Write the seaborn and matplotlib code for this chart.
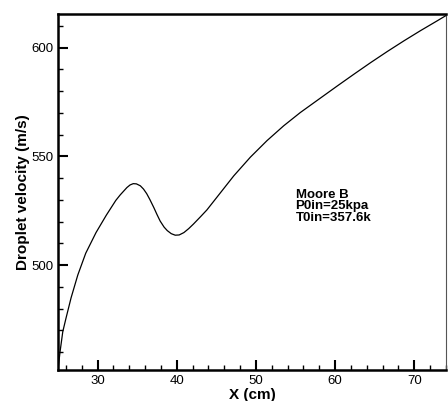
import pandas as pd
import seaborn as sns
import matplotlib.pyplot as plt
from matplotlib.ticker import MultipleLocator

# droplet velocity along the nozzle
x_cm = [25.0, 25.25, 25.6, 26.0, 26.65, 27.5, 28.5, 29.8, 31.1, 32.3, 32.85, 33.7,
        34.1, 34.5, 34.9, 35.4, 35.8, 36.2, 36.6, 37.1, 37.5, 37.9, 38.4, 38.8,
        39.3, 39.8, 40.3, 40.9, 41.5, 42.1, 43.0, 43.8, 45.1, 47.2, 49.3, 51.4,
        53.5, 55.6, 57.7, 60.3, 62.4, 64.5, 66.6, 68.7, 70.8, 72.9, 74.0]
velocity = [452, 460, 469.4, 475.5, 485.0, 495.5, 505.5, 515.0, 523.0, 529.8, 532.3,
            535.7, 536.9, 537.5, 537.4, 536.5, 535.0, 532.9, 530.2, 526.5, 523.3,
            520.3, 517.5, 515.9, 514.5, 513.8, 513.9, 515.0, 516.8, 518.9, 522.3,
            525.4, 531.4, 541.1, 549.7, 557.3, 564.1, 570.2, 575.7, 582.5, 587.9,
            593.2, 598.3, 603.2, 607.9, 612.4, 614.8]
note = ['Moore B', 'P0in=25kpa', 'T0in=357.6k']

df = pd.DataFrame({'x': x_cm, 'v': velocity})

sns.set_style('ticks')
plt.rcParams['font.family'] = ['Liberation Sans', 'DejaVu Sans']
plt.rcParams['text.color'] = 'black'
plt.rcParams['axes.labelcolor'] = 'black'
plt.rcParams['xtick.color'] = 'black'
plt.rcParams['ytick.color'] = 'black'

fig = plt.figure(figsize=(4.48, 4.01), dpi=100)
ax = fig.add_axes([0.1295, 0.0773, 0.866, 0.8877])
sns.lineplot(data=df, x='x', y='v', color='black', linewidth=0.9, estimator=None, ax=ax)

ax.set_xlim(25, 74)
ax.set_ylim(451.8, 615.5)
ax.xaxis.set_major_locator(MultipleLocator(10))
ax.xaxis.set_minor_locator(MultipleLocator(2))
ax.yaxis.set_major_locator(MultipleLocator(50))
ax.yaxis.set_minor_locator(MultipleLocator(10))
ax.tick_params(which='major', direction='in', length=7, width=1.5, labelsize=9.5, pad=3.5)
ax.tick_params(which='minor', direction='in', length=3.5, width=1)
ax.tick_params(top=False, right=False)

for side in ['left', 'bottom', 'top']:
    ax.spines[side].set_linewidth(1.8)
    ax.spines[side].set_color('black')
ax.spines['right'].set_linewidth(0.8)
ax.spines['right'].set_color('#555555')

ax.set_xlabel('X (cm)', fontsize=11, fontweight='bold', labelpad=0.5)
ax.set_ylabel('Droplet velocity (m/s)', fontsize=11, fontweight='bold', labelpad=1)

ax.text(55.0, 535.0, '\n'.join(note), fontsize=9.5, fontweight='bold',
        va='top', ha='left', linespacing=0.92)

fig.savefig('out.png', dpi=100)
